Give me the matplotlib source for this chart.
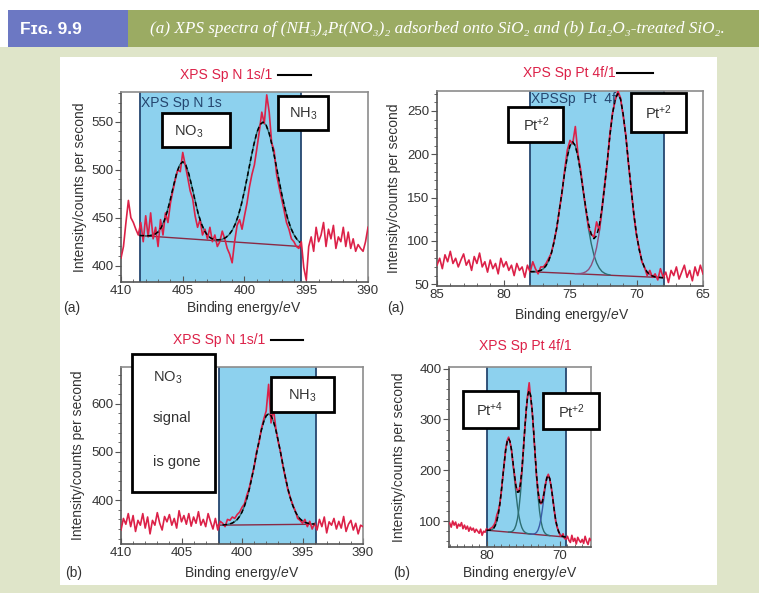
import numpy as np
import matplotlib
matplotlib.use("Agg")
import matplotlib.pyplot as plt
from matplotlib.patches import Rectangle
from matplotlib.ticker import MultipleLocator

plt.rcParams['font.family'] = ['Liberation Sans', 'DejaVu Sans']
plt.rcParams['mathtext.fontset'] = 'custom'
plt.rcParams['mathtext.rm'] = 'Liberation Sans'
plt.rcParams['mathtext.it'] = 'Liberation Sans:italic'
plt.rcParams['mathtext.bf'] = 'Liberation Sans:bold'

# ---------------- data ----------------
# (a) N 1s, raw counts, 410 -> 390 eV every 0.2 eV
n1s_a_counts = [408, 420, 445, 468, 450, 445, 438, 432, 445, 425,
                452, 430, 455, 428, 440, 420, 448, 432, 455, 445,
                465, 478, 490, 500, 498, 518, 505, 492, 478, 470,
                452, 440, 448, 432, 438, 428, 440, 425, 432, 420,
                425, 436, 428, 418, 412, 403, 425, 442, 448, 438,
                452, 465, 482, 495, 505, 522, 540, 560, 548, 578,
                560, 528, 520, 495, 482, 470, 458, 445, 438, 428,
                425, 420, 418, 425, 398, 385, 420, 430, 415, 440,
                425, 432, 445, 420, 438, 428, 442, 418, 430, 425,
                440, 420, 435, 418, 428, 415, 422, 418, 415, 425,
                440]
n1s_a_energy = np.linspace(410, 390, len(n1s_a_counts))
# fitted envelope 408.5 -> 395.5 eV
n1s_a_fit = [431.5, 431.3, 431.3, 431.2, 431.6, 432.8, 435.2, 439.5, 446.6, 456.6,
             469.3, 483.2, 496.1, 505.2, 508.4, 504.8, 495.3, 481.9, 467.5, 454.4,
             444.0, 436.5, 431.6, 428.9, 427.5, 427.0, 427.1, 427.8, 429.5, 432.3,
             436.8, 443.3, 452.3, 464.1, 478.2, 494.1, 510.5, 525.9, 538.7, 547.0,
             549.6, 546.5, 537.8, 524.6, 508.7, 491.9, 475.5, 461.0, 448.8, 439.3,
             432.3, 427.4, 424.2]
# NO3 component 408 -> 402 eV, NH3 component 402.5 -> 395.5 eV
n1s_a_no3 = [431, 431, 432, 433, 435, 440, 447, 457, 469, 483, 496, 505, 508,
             505, 495, 482, 468, 454, 444, 437, 432, 429, 427, 426, 426]
n1s_a_nh3 = [426.5, 426.6, 426.9, 427.8, 429.5, 432.3, 436.8, 443.3, 452.3, 464.1,
             478.2, 494.1, 510.5, 525.9, 538.7, 547.0, 549.6, 546.5, 537.8, 524.6,
             508.7, 491.9, 475.5, 461.0, 448.8, 439.3, 432.3, 427.4, 424.2]
n1s_a_base_x = [408.5, 395.5]
n1s_a_base_y = [431.5, 420.0]

# (a) Pt 4f, raw counts, 85 -> 65 eV every 0.2 eV
pt_a_counts = [72, 80, 68, 84, 76, 88, 74, 80, 70, 78,
               85, 72, 78, 66, 82, 74, 86, 70, 76, 64,
               78, 68, 74, 62, 80, 70, 76, 66, 72, 60,
               74, 66, 70, 58, 72, 64, 76, 68, 62, 70,
               70, 74, 80, 86, 100, 114, 136, 155, 182, 205,
               216, 212, 232, 200, 182, 158, 136, 115, 108, 104,
               122, 112, 138, 165, 190, 224, 248, 262, 273, 265,
               244, 222, 188, 160, 130, 106, 92, 76, 70, 60,
               66, 58, 62, 55, 68, 58, 64, 52, 66, 60,
               70, 56, 64, 72, 58, 66, 54, 70, 60, 72,
               62]
pt_a_energy = np.linspace(85, 65, len(pt_a_counts))
# envelope 78 -> 68 eV
pt_a_fit = [64.6, 64.6, 64.7, 65.1, 66.0, 67.9, 71.5, 77.2, 86.0, 98.6,
            115.2, 135.4, 157.2, 179.0, 197.5, 210.0, 214.3, 209.8, 197.3, 178.7,
            157.5, 136.9, 119.2, 107.4, 102.6, 106.0, 117.6, 136.8, 162.7, 191.8,
            221.5, 246.9, 264.0, 269.9, 263.6, 246.1, 220.2, 189.7, 159.2, 131.0,
            107.8, 90.1, 77.5, 69.2, 64.1, 61.1, 59.5, 58.5, 58.1, 57.8, 57.5]
# component 1: 78 -> 72 eV, component 2: 74.6 -> 68 eV
pt_a_peak1 = [64.6, 64.6, 64.7, 65.1, 66.0, 67.9, 71.5, 77.2, 86.0, 98.6,
              115.2, 135.4, 157.2, 179.0, 197.5, 210.0, 214.3, 209.7, 197.0, 178.1,
              156.1, 134.0, 113.5, 96.7, 83.7, 74.7, 68.7, 64.8, 62.7, 61.4, 60.8]
pt_a_peak2 = [62.2, 62.3, 62.4, 63.1, 64.5, 67.1, 72.0, 80.0, 92.3, 109.8,
              132.7, 160.6, 190.8, 221.0, 246.7, 263.9, 269.9, 263.6, 246.1, 220.2,
              189.7, 159.2, 131.0, 107.8, 90.1, 77.5, 69.2, 64.1, 61.1, 59.5,
              58.5, 58.1, 57.8, 57.5]
pt_a_base_x = [78.0, 67.9]
pt_a_base_y = [64.5, 57.6]

# (b) N 1s, raw counts, 410 -> 390 eV every 0.2 eV
n1s_b_counts = [338, 362, 350, 372, 345, 368, 335, 358, 348, 372,
                342, 365, 330, 358, 348, 374, 352, 338, 366, 355,
                370, 348, 362, 342, 378, 355, 368, 350, 372, 346,
                365, 352, 376, 348, 360, 345, 372, 355, 340, 362,
                338, 356, 352, 345, 360, 358, 365, 362, 370, 375,
                385, 392, 410, 425, 448, 468, 500, 518, 548, 568,
                585, 640, 560, 590, 548, 520, 498, 468, 445, 420,
                405, 390, 378, 362, 358, 352, 360, 345, 356, 340,
                352, 338, 360, 345, 365, 332, 355, 348, 362, 340,
                356, 342, 366, 335, 350, 358, 338, 352, 330, 348,
                345]
n1s_b_energy = np.linspace(410, 390, len(n1s_b_counts))
# NH3 fit 401.6 -> 394 eV
n1s_b_fit = [348.5, 348.9, 349.5, 350.7, 352.4, 355.5, 359.7, 366.2, 375.2, 387.5,
             402.9, 422.3, 444.8, 470.0, 496.2, 521.9, 544.9, 563.1, 574.9, 579.1,
             575.0, 563.3, 545.2, 522.3, 496.7, 470.6, 445.5, 423.1, 403.8, 388.5,
             376.3, 367.4, 361.0, 356.9, 353.9, 352.3, 351.2, 350.7, 350.4]
n1s_b_base_x = [402.0, 394.0]
n1s_b_base_y = [348.0, 350.0]

# (b) Pt 4f, raw counts, 85 -> 65.8 eV every 0.2 eV
pt_b_counts = [96, 88, 100, 92, 98, 86, 94, 90, 97, 85,
               92, 84, 90, 80, 88, 82, 86, 78, 84, 80,
               76, 84, 72, 80, 78, 85, 82, 84, 86, 88,
               92, 98, 112, 120, 134, 156, 186, 212, 242, 258,
               265, 254, 240, 212, 192, 168, 160, 158, 174, 198,
               240, 282, 318, 350, 372, 342, 318, 276, 232, 188,
               160, 142, 134, 140, 155, 172, 186, 192, 182, 166,
               146, 122, 100, 88, 80, 72, 70, 75, 66, 64,
               70, 62, 58, 72, 60, 66, 55, 68, 62, 58,
               64, 56, 70, 60, 54, 66, 62]
pt_b_energy = np.linspace(85, 65.8, len(pt_b_counts))
# envelope 80 -> 69.2 eV
pt_b_fit = [82.1, 81.9, 82.0, 82.5, 83.8, 86.4, 91.7, 100.3, 113.7, 132.5,
            157.0, 185.0, 213.7, 239.0, 256.2, 262.4, 256.3, 239.5, 215.6, 190.3,
            169.2, 156.7, 157.3, 171.9, 200.3, 238.5, 281.3, 320.1, 347.3, 356.9,
            346.5, 318.0, 277.6, 232.5, 190.8, 158.0, 138.3, 132.1, 138.5, 153.4,
            171.2, 185.2, 190.1, 183.4, 166.8, 144.6, 121.8, 102.4, 88.2, 78.9,
            73.7, 70.9, 69.6, 68.9, 68.6]
# components: 80 -> 74, 77 -> 71.4, 74 -> 69.2 eV
pt_b_peak1 = [82.1, 81.9, 82.0, 82.5, 83.8, 86.4, 91.7, 100.3, 113.7, 132.5,
              157.0, 185.0, 213.7, 239.0, 256.2, 262.2, 255.7, 238.0, 212.2, 183.0,
              154.5, 129.5, 110.2, 96.3, 87.2, 81.4, 78.3, 76.5, 75.5, 74.9, 74.6]
pt_b_peak2 = [78.4, 78.6, 79.2, 80.9, 84.5, 91.7, 103.9, 123.6, 151.8, 189.1,
              232.8, 278.5, 318.8, 346.8, 356.7, 346.3, 317.8, 277.0, 230.8, 186.6,
              148.8, 120.1, 99.9, 87.2, 79.5, 75.4, 73.2, 72.1, 71.4]
pt_b_peak3 = [74.5, 74.4, 74.6, 75.4, 77.7, 82.4, 91.2, 104.9, 123.8, 146.1,
              167.8, 183.7, 189.5, 183.2, 166.8, 144.6, 121.8, 102.4, 88.2, 78.9,
              73.7, 70.9, 69.6, 68.9, 68.6]
pt_b_base_x = [80.0, 69.2]
pt_b_base_y = [82.0, 68.5]

caption = ("(a) XPS spectra of (NH\u2083)\u2084Pt(NO\u2083)\u2082 adsorbed onto SiO\u2082 "
           "and (b) La\u2082O\u2083-treated SiO\u2082.")

# ---------------- styling ----------------
RED = '#dc2148'
BLUE = '#8dd1ee'
NAVY = '#25466f'
TEAL = '#2d6e72'
BASE = '#8a2a45'
TXT = '#333333'

W, H = 759, 593
fig = plt.figure(figsize=(W / 100, H / 100), dpi=100)


def px_axes(left, top, right, bottom, z=1):
    return fig.add_axes([left / W, 1 - bottom / H, (right - left) / W, (bottom - top) / H], zorder=z)


# page background and header
bg = fig.add_axes([0, 0, 1, 1], zorder=0)
bg.set_xlim(0, W)
bg.set_ylim(H, 0)
bg.axis('off')
bg.add_patch(Rectangle((0, 47), W, H - 47, color='#dfe5c9', lw=0))
bg.add_patch(Rectangle((60, 57), 657, 528, color='white', lw=0))
bg.add_patch(Rectangle((8, 10), 120, 37, color='#6c78c3', lw=0))
bg.add_patch(Rectangle((128, 10), W - 128, 37, color='#9bab63', lw=0))
bg.text(20, 29, 'F\u026a\u0262. 9.9', color='white', fontsize=12.5, fontweight='bold',
        ha='left', va='center', family=['Liberation Sans', 'DejaVu Sans'])
bg.text(150, 29, caption, color='white', fontsize=12.3, style='italic',
        ha='left', va='center', family=['Liberation Serif', 'DejaVu Serif'])


def spectrum(ax, xlim, ylim, window, energy, counts, fit_x, fit_y, comps,
             base_x, base_y, xmaj, ymaj, ymin):
    ax.set_xlim(*xlim)
    ax.set_ylim(*ylim)
    ax.axvspan(window[0], window[1], color=BLUE, lw=0, zorder=0)
    for w in window:
        ax.axvline(w, color=NAVY, lw=1.3, zorder=1)
    ax.plot(base_x, base_y, color=BASE, lw=1.0, zorder=2)
    for cx, cy, col in comps:
        ax.plot(cx, cy, color=col, lw=1.0, zorder=2)
    ax.plot(energy, counts, color=RED, lw=1.2, zorder=3)
    ax.plot(fit_x, fit_y, color='black', lw=1.1, dashes=(3, 2), zorder=4)
    ax.xaxis.set_major_locator(MultipleLocator(xmaj))
    ax.xaxis.set_minor_locator(MultipleLocator(1))
    ax.yaxis.set_major_locator(MultipleLocator(ymaj))
    ax.yaxis.set_minor_locator(MultipleLocator(ymin))
    ax.tick_params(axis='x', which='both', direction='in', color='#555555',
                   labelsize=9.5, labelcolor=TXT, pad=2.5)
    ax.tick_params(axis='x', which='major', length=4)
    ax.tick_params(axis='x', which='minor', length=2.5)
    ax.tick_params(axis='y', which='both', direction='out', color='#555555',
                   labelsize=9.5, labelcolor=TXT, pad=1.5)
    ax.tick_params(axis='y', which='major', length=4)
    ax.tick_params(axis='y', which='minor', length=2)
    for s in ax.spines.values():
        s.set_color('#8c8c8c')
        s.set_linewidth(1.2)
    ax.spines['left'].set_color('#555555')
    ax.spines['bottom'].set_color('#555555')


ax1 = px_axes(121, 92, 368, 282)
spectrum(ax1, (410, 390), (383, 581), (408.5, 395.45), n1s_a_energy, n1s_a_counts,
         np.linspace(408.5, 395.5, len(n1s_a_fit)), n1s_a_fit,
         [(np.linspace(408, 402, len(n1s_a_no3)), n1s_a_no3, TEAL),
          (np.linspace(402.5, 395.5, len(n1s_a_nh3)), n1s_a_nh3, TEAL)],
         n1s_a_base_x, n1s_a_base_y, 5, 50, 10)

ax2 = px_axes(437, 91, 703, 286)
spectrum(ax2, (85, 65), (48, 273), (78.0, 67.9), pt_a_energy, pt_a_counts,
         np.linspace(78, 68, len(pt_a_fit)), pt_a_fit,
         [(np.linspace(78, 72, len(pt_a_peak1)), pt_a_peak1, TEAL),
          (np.linspace(74.6, 68, len(pt_a_peak2)), pt_a_peak2, '#8c4f7d')],
         pt_a_base_x, pt_a_base_y, 5, 50, 10)

ax3 = px_axes(121, 367, 363, 544)
spectrum(ax3, (410, 390), (309, 676), (401.9, 393.9), n1s_b_energy, n1s_b_counts,
         np.linspace(401.6, 394, len(n1s_b_fit)), n1s_b_fit,
         [(np.linspace(401.6, 394, len(n1s_b_fit)), n1s_b_fit, TEAL)],
         n1s_b_base_x, n1s_b_base_y, 5, 100, 20)

ax4 = px_axes(449, 367, 591, 547)
spectrum(ax4, (85.1, 65.8), (49, 403), (80.0, 69.2), pt_b_energy, pt_b_counts,
         np.linspace(80, 69.2, len(pt_b_fit)), pt_b_fit,
         [(np.linspace(80, 74, len(pt_b_peak1)), pt_b_peak1, TEAL),
          (np.linspace(77, 71.4, len(pt_b_peak2)), pt_b_peak2, TEAL),
          (np.linspace(74, 69.2, len(pt_b_peak3)), pt_b_peak3, '#3b5ca8')],
         pt_b_base_x, pt_b_base_y, 10, 100, 20)

# overlay: titles, labels, annotation boxes (pixel coordinates)
ov = fig.add_axes([0, 0, 1, 1], zorder=20)
ov.set_xlim(0, W)
ov.set_ylim(H, 0)
ov.axis('off')
ov.patch.set_alpha(0)


def title(x, y, s, line=None):
    ov.text(x, y, s, color=RED, fontsize=10, ha='left', va='center')
    if line:
        ov.plot(line, [y, y], color='black', lw=1.5)


title(180, 75, 'XPS Sp N 1s/1', (278, 311))
title(523, 73, 'XPS Sp Pt 4f/1', (617, 653))
title(173, 340, 'XPS Sp N 1s/1', (271, 303))
title(479, 346, 'XPS Sp Pt 4f/1')

ylab = 'Intensity/counts per second'
xlab = 'Binding energy/$e$V'
for x, y in [(80, 187), (394, 188), (78, 455), (399, 457)]:
    ov.text(x, y, ylab, rotation=90, fontsize=10, color=TXT, ha='center', va='center')
for x, y in [(244, 308), (572, 315), (242, 573), (520, 573)]:
    ov.text(x, y, xlab, fontsize=10, color=TXT, ha='center', va='center')
for x, y, s in [(63, 308, '(a)'), (387, 308, '(a)'), (65, 573, '(b)'), (393, 573, '(b)')]:
    ov.text(x, y, s, fontsize=10, color=TXT, ha='left', va='center')

ov.text(141, 103, 'XPS Sp N 1s', fontsize=10, color=NAVY, ha='left', va='center')
ov.text(531, 99, 'XPSSp  Pt  4f', fontsize=10, color=NAVY, ha='left', va='center')


def box(x0, y0, x1, y1):
    ov.add_patch(Rectangle((x0, y0), x1 - x0, y1 - y0, facecolor='white',
                           edgecolor='black', lw=2))


box(162, 113, 230, 147)
ov.text(189, 132, 'NO$_3$', fontsize=10.5, color=TXT, ha='center', va='center')
box(278, 96, 328, 130)
ov.text(303, 114, 'NH$_3$', fontsize=10.5, color=TXT, ha='center', va='center')

box(508, 107, 563, 142)
ov.text(537, 125, 'Pt$^{+2}$', fontsize=10.5, color=TXT, ha='center', va='center')
box(631, 93, 686, 132)
ov.text(659, 113, 'Pt$^{+2}$', fontsize=10.5, color=TXT, ha='center', va='center')

box(132, 354, 215, 492)
ov.text(153, 378, 'NO$_3$', fontsize=10.5, color=TXT, ha='left', va='center')
ov.text(153, 418, 'signal', fontsize=10.5, color=TXT, ha='left', va='center')
ov.text(153, 462, 'is gone', fontsize=10.5, color=TXT, ha='left', va='center')
box(271, 377, 334, 412)
ov.text(302, 396, 'NH$_3$', fontsize=10.5, color=TXT, ha='center', va='center')

box(463, 391, 518, 428)
ov.text(490, 410, 'Pt$^{+4}$', fontsize=10.5, color=TXT, ha='center', va='center')
box(543, 393, 599, 429)
ov.text(572, 412, 'Pt$^{+2}$', fontsize=10.5, color=TXT, ha='center', va='center')

fig.savefig('out.png', dpi=100)
